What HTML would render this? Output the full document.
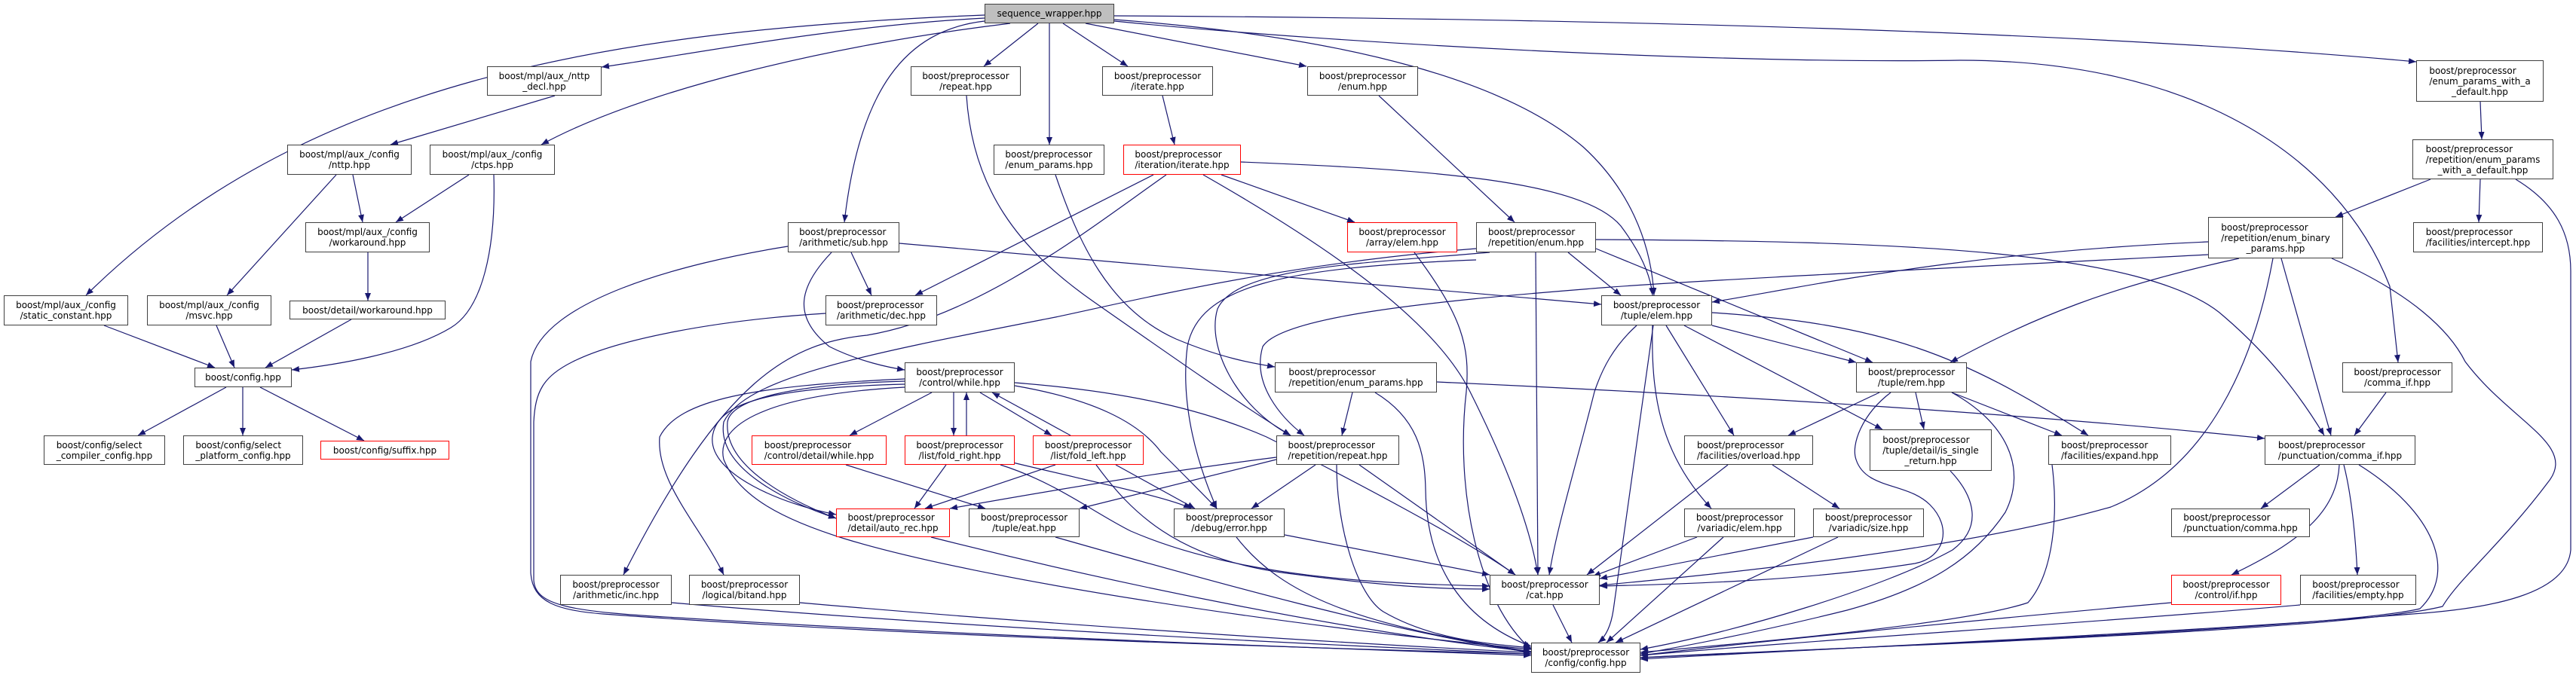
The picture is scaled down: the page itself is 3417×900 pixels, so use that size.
<!DOCTYPE html>
<html><head><meta charset="utf-8"><style>
html,body{margin:0;padding:0;background:#fff;}
#c{position:relative;width:3417px;height:900px;overflow:hidden;background:#fff;}
svg{position:absolute;left:0;top:0;}
.n{position:absolute;box-sizing:border-box;border:1px solid #404040;background:#fff;display:flex;align-items:center;justify-content:center;font-family:"DejaVu Sans","Liberation Sans",sans-serif;font-size:12px;line-height:14px;color:#000;white-space:nowrap;}
.n.r{border-color:#ff0000;}
.n.g{background:#bfbfbf;}
.n>div>div{text-align:left;}
.n>div>div:last-child{text-align:center;}
path.e{fill:none;stroke:#191970;stroke-width:1.2;}
</style></head><body><div id="c">
<svg width="3417" height="900" viewBox="0 0 3417 900">
<defs><marker id="a" markerWidth="10" markerHeight="8" refX="10" refY="4" orient="auto" markerUnits="userSpaceOnUse"><path d="M0,0 L10,4 L0,8 z" fill="#191970"/></marker></defs>
<g marker-end="url(#a)">
<path class="e" d="M1306,20 C800,40 400,110 114,392"/>
<path class="e" d="M1306,24 C1100,35 900,75 798,89"/>
<path class="e" d="M1340,31 C1100,60 850,120 718,192"/>
<path class="e" d="M1306,28 C1200,40 1140,120 1120,295"/>
<path class="e" d="M1377,31 L1305,88"/>
<path class="e" d="M1392,31 L1392,192"/>
<path class="e" d="M1410,31 L1496,88"/>
<path class="e" d="M1440,31 L1733,88"/>
<path class="e" d="M1478,26 C1800,50 2000,110 2100,195 C2160,250 2190,320 2194,392"/>
<path class="e" d="M1478,21 C2200,25 2800,45 3205,82"/>
<path class="e" d="M1478,28 C1800,60 2300,85 2600,80 C2900,80 3100,200 3170,380 L3181,481"/>
<path class="e" d="M736,127 L518,192"/>
<path class="e" d="M622,232 L525,295"/>
<path class="e" d="M655,232 C658,330 640,410 598,435 C540,470 440,485 387,491"/>
<path class="e" d="M468,232 L481,295"/>
<path class="e" d="M446,232 L301,392"/>
<path class="e" d="M488,335 L488,399"/>
<path class="e" d="M138,432 L285,488"/>
<path class="e" d="M287,432 L311,488"/>
<path class="e" d="M466,424 L352,488"/>
<path class="e" d="M300,514 L183,578"/>
<path class="e" d="M322,514 L322,578"/>
<path class="e" d="M345,514 L483,585"/>
<path class="e" d="M1282,127 C1290,250 1350,330 1450,400 C1550,470 1650,540 1712,578"/>
<path class="e" d="M1400,232 C1430,320 1470,410 1560,450 C1620,475 1660,482 1691,487"/>
<path class="e" d="M1542,127 L1558,192"/>
<path class="e" d="M1829,127 L2009,295"/>
<path class="e" d="M1530,232 L1214,392"/>
<path class="e" d="M1547,232 C1450,300 1300,420 1150,445 C1050,455 960,500 827,763"/>
<path class="e" d="M1620,232 L1797,295"/>
<path class="e" d="M1596,232 C1750,320 1900,420 1950,520 C2000,620 2030,700 2040,763"/>
<path class="e" d="M1646,215 C1900,225 2100,240 2150,300 C2180,340 2190,370 2192,392"/>
<path class="e" d="M1129,335 L1156,392"/>
<path class="e" d="M1103,335 C1060,380 1050,420 1100,460 C1140,480 1180,488 1200,491"/>
<path class="e" d="M1193,323 L2124,404"/>
<path class="e" d="M1045,327 C900,350 720,400 704,480 L704,760 C706,800 740,810 800,815 C1200,845 1800,862 2031,868"/>
<path class="e" d="M1095,416 C950,425 820,450 760,480 C720,500 710,520 708,560 L708,770 C710,805 760,812 900,820 C1300,845 1800,862 2031,870"/>
<path class="e" d="M1876,335 C1940,420 1950,460 1945,520 C1930,650 1960,800 2031,862"/>
<path class="e" d="M1976,335 C1800,350 1640,355 1615,410 C1600,460 1640,540 1712,578"/>
<path class="e" d="M1958,345 C1700,355 1590,380 1575,460 C1565,540 1590,620 1614,675"/>
<path class="e" d="M1958,330 C1700,350 1500,400 1400,421 C1150,470 990,500 960,560 C950,620 1040,665 1109,688"/>
<path class="e" d="M2037,335 L2040,763"/>
<path class="e" d="M2080,335 L2150,392"/>
<path class="e" d="M2117,330 L2484,481"/>
<path class="e" d="M2117,318 C2500,320 2850,330 2950,420 C3020,480 3060,540 3083,578"/>
<path class="e" d="M2929,321 C2600,335 2400,380 2271,401"/>
<path class="e" d="M2970,343 C2800,380 2700,420 2587,481"/>
<path class="e" d="M3026,343 L3092,578"/>
<path class="e" d="M3015,343 C2990,480 2930,620 2800,673 C2600,730 2300,760 2122,777"/>
<path class="e" d="M3093,343 C3200,390 3250,440 3270,480 C3330,560 3420,590 3380,640 C3320,720 3260,770 3240,805 C3100,840 2400,860 2176,873"/>
<path class="e" d="M2929,338 C2500,360 2200,375 2100,384 C1900,400 1700,420 1675,460 C1660,510 1700,555 1730,578"/>
<path class="e" d="M3224,238 L3098,288"/>
<path class="e" d="M3290,238 L3288,295"/>
<path class="e" d="M3337,238 C3390,270 3410,310 3410,360 L3410,730 C3405,790 3300,808 3200,815 C2900,840 2400,862 2176,875"/>
<path class="e" d="M3290,135 L3292,185"/>
<path class="e" d="M3165,521 L3123,578"/>
<path class="e" d="M3077,617 L2999,675"/>
<path class="e" d="M3103,617 C3100,680 3050,720 2960,763"/>
<path class="e" d="M3109,617 C3120,660 3125,720 3127,763"/>
<path class="e" d="M3129,617 C3230,680 3260,760 3210,808 C3100,835 2400,862 2176,873"/>
<path class="e" d="M2880,800 C2600,825 2300,855 2176,870"/>
<path class="e" d="M3051,803 C2800,825 2400,850 2176,870"/>
<path class="e" d="M2193,432 L2140,810 C2137,830 2130,845 2120,853"/>
<path class="e" d="M2171,432 C2140,460 2125,490 2115,520 C2090,620 2065,700 2055,763"/>
<path class="e" d="M2192,432 C2190,520 2200,600 2270,675"/>
<path class="e" d="M2210,432 L2300,578"/>
<path class="e" d="M2234,432 L2497,570"/>
<path class="e" d="M2271,432 L2462,481"/>
<path class="e" d="M2271,415 C2500,430 2600,470 2770,578"/>
<path class="e" d="M2493,521 L2372,578"/>
<path class="e" d="M2541,521 L2552,570"/>
<path class="e" d="M2589,521 L2735,578"/>
<path class="e" d="M2508,521 C2470,550 2455,590 2462,610 C2475,650 2530,640 2560,670 C2590,700 2580,740 2540,748 C2400,770 2250,775 2122,778"/>
<path class="e" d="M2589,521 C2660,560 2690,620 2660,680 C2620,740 2560,780 2450,810 C2350,835 2250,855 2176,868"/>
<path class="e" d="M2587,625 C2620,660 2630,700 2590,730 C2500,780 2300,840 2176,862"/>
<path class="e" d="M2292,617 L2105,763"/>
<path class="e" d="M2351,617 L2440,675"/>
<path class="e" d="M2251,713 L2113,765"/>
<path class="e" d="M2286,713 L2131,853"/>
<path class="e" d="M2405,713 L2122,768"/>
<path class="e" d="M2438,713 L2143,853"/>
<path class="e" d="M2722,617 C2730,680 2725,760 2690,800 C2600,830 2300,855 2176,866"/>
<path class="e" d="M2060,803 L2085,853"/>
<path class="e" d="M1640,713 C1700,790 1800,830 2031,865"/>
<path class="e" d="M1704,710 L1976,763"/>
<path class="e" d="M1745,617 L1660,675"/>
<path class="e" d="M1693,610 L1432,675"/>
<path class="e" d="M1693,607 C1550,625 1400,650 1260,675"/>
<path class="e" d="M1803,617 L2010,763"/>
<path class="e" d="M1773,617 C1773,700 1800,790 1835,812 C1900,850 1980,855 2031,860"/>
<path class="e" d="M1794,521 L1780,578"/>
<path class="e" d="M1824,521 C1880,555 1890,600 1891,650 C1892,740 1930,820 2031,858"/>
<path class="e" d="M1906,507 C2300,525 2700,550 3004,582"/>
<path class="e" d="M1236,521 L1127,578"/>
<path class="e" d="M1265,521 L1265,578"/>
<path class="e" d="M1282,578 L1282,521"/>
<path class="e" d="M1300,521 L1395,578"/>
<path class="e" d="M1420,578 L1316,521"/>
<path class="e" d="M1200,506 C1050,510 970,530 965,560 C960,620 1050,665 1109,688"/>
<path class="e" d="M1200,510 C1000,515 950,540 945,580 C940,630 1040,670 1109,683"/>
<path class="e" d="M1346,512 C1450,530 1510,560 1540,600 C1570,630 1600,660 1614,675"/>
<path class="e" d="M1346,508 C1500,520 1600,545 1680,580 C1800,640 1950,720 2010,763"/>
<path class="e" d="M1200,503 C1000,512 900,530 875,580 C870,640 930,700 960,763"/>
<path class="e" d="M1200,514 C1000,525 950,570 960,610 C980,660 1040,690 1120,715 C1300,770 1700,830 2031,862"/>
<path class="e" d="M1122,617 L1307,675"/>
<path class="e" d="M1255,617 L1213,675"/>
<path class="e" d="M1327,610 C1450,640 1550,660 1580,675"/>
<path class="e" d="M1327,617 C1400,640 1450,680 1500,705 C1650,770 1850,775 1976,778"/>
<path class="e" d="M1400,617 L1227,675"/>
<path class="e" d="M1480,617 L1585,675"/>
<path class="e" d="M1454,617 C1500,680 1560,740 1700,760 C1850,780 1920,782 1976,782"/>
<path class="e" d="M1235,713 C1500,780 1800,840 2031,865"/>
<path class="e" d="M1400,713 C1600,770 1850,840 2031,866"/>
<path class="e" d="M891,800 C1300,835 1800,858 2031,868"/>
<path class="e" d="M1061,800 C1400,830 1800,855 2031,866"/>
</g>
</svg>
<div class="n g" style="left:1306px;top:5px;width:172px;height:26px"><div><div>sequence_wrapper.hpp</div></div></div>
<div class="n" style="left:646px;top:88px;width:152px;height:39px"><div><div>boost/mpl/aux_/nttp</div><div>_decl.hpp</div></div></div>
<div class="n" style="left:381px;top:192px;width:165px;height:40px"><div><div>boost/mpl/aux_/config</div><div>/nttp.hpp</div></div></div>
<div class="n" style="left:570px;top:192px;width:166px;height:40px"><div><div>boost/mpl/aux_/config</div><div>/ctps.hpp</div></div></div>
<div class="n" style="left:405px;top:295px;width:165px;height:40px"><div><div>boost/mpl/aux_/config</div><div>/workaround.hpp</div></div></div>
<div class="n" style="left:5px;top:392px;width:165px;height:40px"><div><div>boost/mpl/aux_/config</div><div>/static_constant.hpp</div></div></div>
<div class="n" style="left:195px;top:392px;width:165px;height:40px"><div><div>boost/mpl/aux_/config</div><div>/msvc.hpp</div></div></div>
<div class="n" style="left:384px;top:399px;width:207px;height:25px"><div><div>boost/detail/workaround.hpp</div></div></div>
<div class="n" style="left:258px;top:488px;width:129px;height:26px"><div><div>boost/config.hpp</div></div></div>
<div class="n" style="left:58px;top:578px;width:161px;height:39px"><div><div>boost/config/select</div><div>_compiler_config.hpp</div></div></div>
<div class="n" style="left:243px;top:578px;width:159px;height:39px"><div><div>boost/config/select</div><div>_platform_config.hpp</div></div></div>
<div class="n r" style="left:425px;top:585px;width:171px;height:25px"><div><div>boost/config/suffix.hpp</div></div></div>
<div class="n" style="left:1045px;top:295px;width:148px;height:40px"><div><div>boost/preprocessor</div><div>/arithmetic/sub.hpp</div></div></div>
<div class="n" style="left:1095px;top:392px;width:148px;height:40px"><div><div>boost/preprocessor</div><div>/arithmetic/dec.hpp</div></div></div>
<div class="n" style="left:1208px;top:88px;width:146px;height:39px"><div><div>boost/preprocessor</div><div>/repeat.hpp</div></div></div>
<div class="n" style="left:1318px;top:192px;width:147px;height:40px"><div><div>boost/preprocessor</div><div>/enum_params.hpp</div></div></div>
<div class="n" style="left:1200px;top:481px;width:146px;height:40px"><div><div>boost/preprocessor</div><div>/control/while.hpp</div></div></div>
<div class="n r" style="left:997px;top:578px;width:179px;height:39px"><div><div>boost/preprocessor</div><div>/control/detail/while.hpp</div></div></div>
<div class="n r" style="left:1200px;top:578px;width:146px;height:39px"><div><div>boost/preprocessor</div><div>/list/fold_right.hpp</div></div></div>
<div class="n r" style="left:1370px;top:578px;width:147px;height:39px"><div><div>boost/preprocessor</div><div>/list/fold_left.hpp</div></div></div>
<div class="n r" style="left:1109px;top:675px;width:151px;height:38px"><div><div>boost/preprocessor</div><div>/detail/auto_rec.hpp</div></div></div>
<div class="n" style="left:1285px;top:675px;width:147px;height:38px"><div><div>boost/preprocessor</div><div>/tuple/eat.hpp</div></div></div>
<div class="n" style="left:743px;top:763px;width:148px;height:40px"><div><div>boost/preprocessor</div><div>/arithmetic/inc.hpp</div></div></div>
<div class="n" style="left:914px;top:763px;width:147px;height:40px"><div><div>boost/preprocessor</div><div>/logical/bitand.hpp</div></div></div>
<div class="n" style="left:1462px;top:88px;width:147px;height:39px"><div><div>boost/preprocessor</div><div>/iterate.hpp</div></div></div>
<div class="n" style="left:1734px;top:88px;width:147px;height:39px"><div><div>boost/preprocessor</div><div>/enum.hpp</div></div></div>
<div class="n r" style="left:1490px;top:192px;width:156px;height:40px"><div><div>boost/preprocessor</div><div>/iteration/iterate.hpp</div></div></div>
<div class="n r" style="left:1787px;top:295px;width:146px;height:40px"><div><div>boost/preprocessor</div><div>/array/elem.hpp</div></div></div>
<div class="n" style="left:1958px;top:295px;width:159px;height:40px"><div><div>boost/preprocessor</div><div>/repetition/enum.hpp</div></div></div>
<div class="n" style="left:1691px;top:481px;width:215px;height:40px"><div><div>boost/preprocessor</div><div>/repetition/enum_params.hpp</div></div></div>
<div class="n" style="left:1693px;top:578px;width:163px;height:39px"><div><div>boost/preprocessor</div><div>/repetition/repeat.hpp</div></div></div>
<div class="n" style="left:1557px;top:675px;width:147px;height:38px"><div><div>boost/preprocessor</div><div>/debug/error.hpp</div></div></div>
<div class="n" style="left:1976px;top:763px;width:146px;height:40px"><div><div>boost/preprocessor</div><div>/cat.hpp</div></div></div>
<div class="n" style="left:2031px;top:853px;width:145px;height:40px"><div><div>boost/preprocessor</div><div>/config/config.hpp</div></div></div>
<div class="n" style="left:2124px;top:392px;width:147px;height:40px"><div><div>boost/preprocessor</div><div>/tuple/elem.hpp</div></div></div>
<div class="n" style="left:2462px;top:481px;width:147px;height:40px"><div><div>boost/preprocessor</div><div>/tuple/rem.hpp</div></div></div>
<div class="n" style="left:2234px;top:578px;width:171px;height:39px"><div><div>boost/preprocessor</div><div>/facilities/overload.hpp</div></div></div>
<div class="n" style="left:2480px;top:570px;width:162px;height:55px"><div><div>boost/preprocessor</div><div>/tuple/detail/is_single</div><div>_return.hpp</div></div></div>
<div class="n" style="left:2717px;top:578px;width:163px;height:39px"><div><div>boost/preprocessor</div><div>/facilities/expand.hpp</div></div></div>
<div class="n" style="left:2234px;top:675px;width:147px;height:38px"><div><div>boost/preprocessor</div><div>/variadic/elem.hpp</div></div></div>
<div class="n" style="left:2405px;top:675px;width:147px;height:38px"><div><div>boost/preprocessor</div><div>/variadic/size.hpp</div></div></div>
<div class="n" style="left:3205px;top:80px;width:169px;height:55px"><div><div>boost/preprocessor</div><div>/enum_params_with_a</div><div>_default.hpp</div></div></div>
<div class="n" style="left:3200px;top:185px;width:187px;height:53px"><div><div>boost/preprocessor</div><div>/repetition/enum_params</div><div>_with_a_default.hpp</div></div></div>
<div class="n" style="left:2929px;top:288px;width:179px;height:55px"><div><div>boost/preprocessor</div><div>/repetition/enum_binary</div><div>_params.hpp</div></div></div>
<div class="n" style="left:3201px;top:295px;width:172px;height:40px"><div><div>boost/preprocessor</div><div>/facilities/intercept.hpp</div></div></div>
<div class="n" style="left:3107px;top:481px;width:146px;height:40px"><div><div>boost/preprocessor</div><div>/comma_if.hpp</div></div></div>
<div class="n" style="left:3004px;top:578px;width:200px;height:39px"><div><div>boost/preprocessor</div><div>/punctuation/comma_if.hpp</div></div></div>
<div class="n" style="left:2880px;top:675px;width:184px;height:38px"><div><div>boost/preprocessor</div><div>/punctuation/comma.hpp</div></div></div>
<div class="n r" style="left:2880px;top:763px;width:146px;height:40px"><div><div>boost/preprocessor</div><div>/control/if.hpp</div></div></div>
<div class="n" style="left:3051px;top:763px;width:154px;height:40px"><div><div>boost/preprocessor</div><div>/facilities/empty.hpp</div></div></div>
</div></body></html>
